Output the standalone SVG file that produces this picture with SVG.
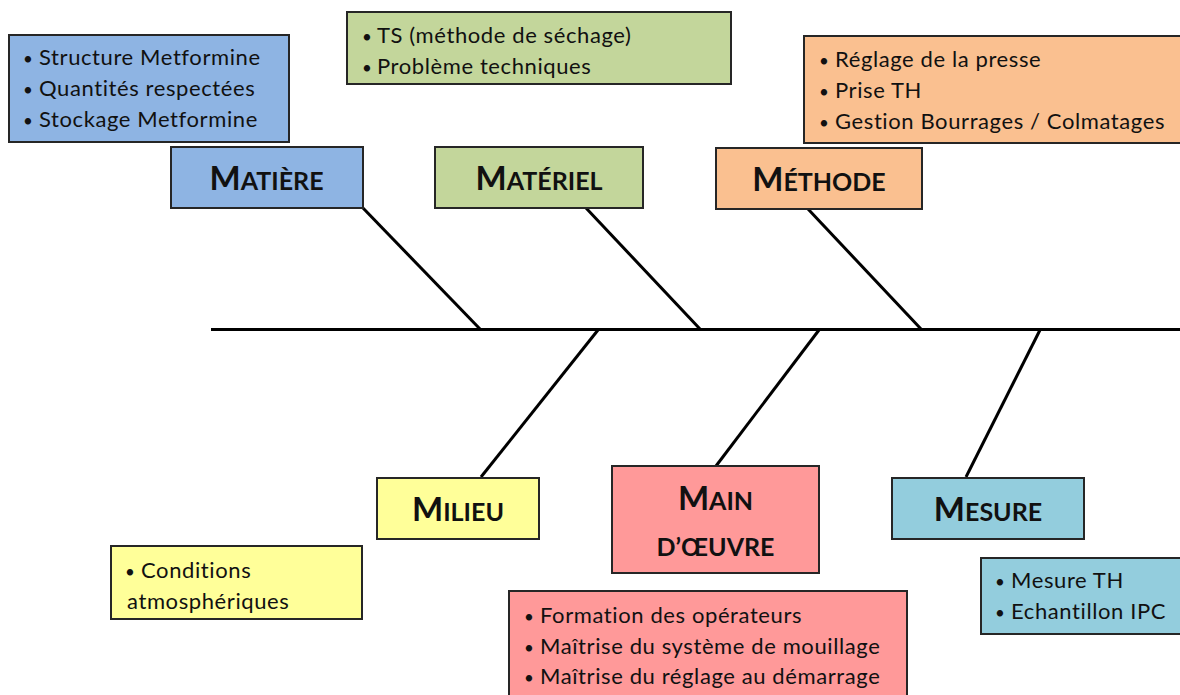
<svg xmlns="http://www.w3.org/2000/svg" width="1180" height="695" viewBox="0 0 1180 695">
<style>
.box{stroke:#262626;stroke-width:2}
.blue{fill:#8EB4E3}.green{fill:#C3D69B}.orange{fill:#FAC090}.yellow{fill:#FFFF99}.red{fill:#FF9999}.teal{fill:#93CDDD}
.d{font-family:Lato,"Open Sans","Liberation Sans",sans-serif;font-size:22px;letter-spacing:0.6px;fill:#111}
.b{font-size:17px}
.l{font-family:Lato,"Open Sans","Liberation Sans",sans-serif;font-weight:bold;font-size:25px;fill:#111;text-anchor:middle}
.big{font-size:33px}
.bone{stroke:#000;stroke-width:3;fill:none}
</style>
<rect width="1180" height="695" fill="#fff"/>
<g id="connectors">
<line class="bone" x1="211" y1="329.5" x2="1180" y2="329.5"/>
<line class="bone" x1="362" y1="207" x2="480" y2="329"/>
<line class="bone" x1="586" y1="208" x2="700" y2="329"/>
<line class="bone" x1="808" y1="209" x2="921" y2="329"/>
<line class="bone" x1="598" y1="330" x2="481" y2="477"/>
<line class="bone" x1="819" y1="330" x2="716" y2="466"/>
<line class="bone" x1="1040" y1="330" x2="966" y2="477"/>
</g>
<g id="matiere">
<rect class="box blue" x="9" y="35" width="280" height="107"/>
<text class="d" y="65"><tspan class="b" x="23">•</tspan><tspan x="39">Structure Metformine</tspan></text>
<text class="d" y="96"><tspan class="b" x="23">•</tspan><tspan x="39">Quantités respectées</tspan></text>
<text class="d" y="127"><tspan class="b" x="23">•</tspan><tspan x="39">Stockage Metformine</tspan></text>
<rect class="box blue" x="171" y="147" width="192" height="61"/>
<text class="l" x="266.5" y="190"><tspan class="big">M</tspan>ATIÈRE</text>
</g>
<g id="materiel">
<rect class="box green" x="347" y="12" width="384" height="72"/>
<text class="d" y="43"><tspan class="b" x="362">•</tspan><tspan x="377">TS (méthode de séchage)</tspan></text>
<text class="d" y="74"><tspan class="b" x="362">•</tspan><tspan x="377">Problème techniques</tspan></text>
<rect class="box green" x="435" y="147" width="208" height="61"/>
<text class="l" x="539" y="190"><tspan class="big">M</tspan>ATÉRIEL</text>
</g>
<g id="methode">
<rect class="box orange" x="804" y="36" width="380" height="107"/>
<text class="d" y="67"><tspan class="b" x="819">•</tspan><tspan x="835">Réglage de la presse</tspan></text>
<text class="d" y="98"><tspan class="b" x="819">•</tspan><tspan x="835">Prise TH</tspan></text>
<text class="d" y="129"><tspan class="b" x="819">•</tspan><tspan x="835">Gestion Bourrages / Colmatages</tspan></text>
<rect class="box orange" x="716" y="148" width="206" height="61"/>
<text class="l" x="819" y="191"><tspan class="big">M</tspan>ÉTHODE</text>
</g>
<g id="milieu">
<rect class="box yellow" x="377" y="478" width="162" height="61"/>
<text class="l" x="458" y="521"><tspan class="big">M</tspan>ILIEU</text>
<rect class="box yellow" x="111" y="546" width="251" height="73"/>
<text class="d" y="578"><tspan class="b" x="125">•</tspan><tspan x="141">Conditions</tspan></text>
<text class="d" x="127" y="609">atmosphériques</text>
</g>
<g id="main-oeuvre">
<rect class="box red" x="612" y="466" width="207" height="107"/>
<text class="l" x="715.5" y="510"><tspan class="big">M</tspan>AIN</text>
<text class="l" x="715.5" y="556">D’ŒUVRE</text>
<rect class="box red" x="509" y="591" width="398" height="110"/>
<text class="d" y="623"><tspan class="b" x="524">•</tspan><tspan x="540">Formation des opérateurs</tspan></text>
<text class="d" y="654"><tspan class="b" x="524">•</tspan><tspan x="540">Maîtrise du système de mouillage</tspan></text>
<text class="d" y="684"><tspan class="b" x="524">•</tspan><tspan x="540">Maîtrise du réglage au démarrage</tspan></text>
</g>
<g id="mesure">
<rect class="box teal" x="892" y="478" width="192" height="61"/>
<text class="l" x="988" y="521"><tspan class="big">M</tspan>ESURE</text>
<rect class="box teal" x="981" y="558" width="205" height="76"/>
<text class="d" y="588"><tspan class="b" x="995">•</tspan><tspan x="1011">Mesure TH</tspan></text>
<text class="d" y="619"><tspan class="b" x="995">•</tspan><tspan x="1011">Echantillon IPC</tspan></text>
</g>
</svg>
